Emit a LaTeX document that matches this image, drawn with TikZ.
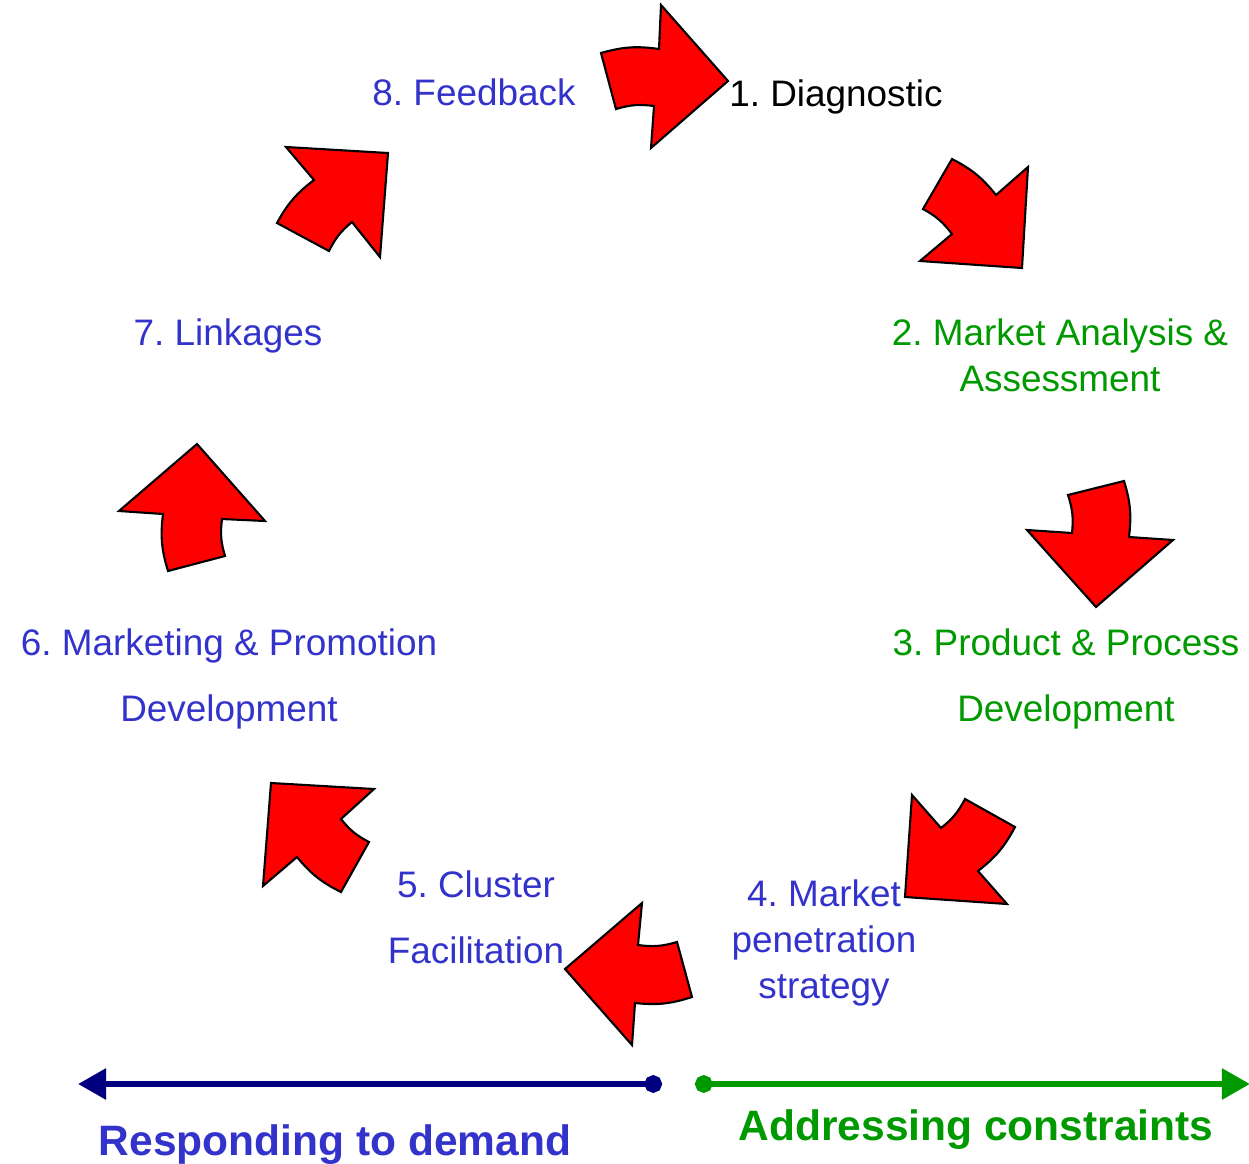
\documentclass[tikz,border=0pt]{standalone}
\usepackage{fontspec}
\setmainfont{Liberation Sans}
\usepackage{tikz}
\usetikzlibrary{arrows.meta, calc}
\definecolor{stepblue}{HTML}{3333CC}
\definecolor{stepgreen}{HTML}{009900}
\definecolor{linenavy}{HTML}{000080}
\frenchspacing
\tikzset{
   myarrow/.style={draw=black, fill=red, line width=1.2pt, line join=miter},
   mylabel/.style={font=\fontsize{21}{26}\selectfont, align=center, inner sep=0pt, anchor=base},
   mywide/.style={mylabel, font=\fontsize{21}{37.5}\selectfont},
   mybold/.style={font=\fontsize{24.2}{30}\selectfont\bfseries, inner sep=0pt, anchor=base},
   myline/.style={line width=3.6pt, {Circle[length=10pt]}-{Triangle[length=16pt,width=17pt]}}
}
\begin{document}
\begin{tikzpicture}[x=0.02cm, y=-0.02cm]
      \useasboundingbox (0,0) rectangle (1249,1164);
      \filldraw[myarrow] (601,53) to[bend left=12] (659,49) -- (661,5) -- (728,81) -- (651,148) -- (654,106) to[bend right=12] (616,109) -- cycle;
      \filldraw[myarrow] (952,159) to[bend left=12] (996,195) -- (1028,167) -- (1022,268) -- (920,261) -- (952,234) to[bend right=12] (923,209) -- cycle;
      \filldraw[myarrow] (1124,481) to[bend left=12] (1129,537) -- (1173,540) -- (1096,607) -- (1027,530) -- (1072,533) to[bend right=12] (1068,495) -- cycle;
      \filldraw[myarrow] (1015,827) to[bend left=12] (978,871) -- (1007,904) -- (905,897) -- (912,795) -- (941,828) to[bend right=12] (965,799) -- cycle;
      \filldraw[myarrow] (692,997) to[bend left=12] (635,1003) -- (632,1045) -- (565,969) -- (642,903) -- (638,945) to[bend right=12] (677,942) -- cycle;
      \filldraw[myarrow] (341,892) to[bend left=12] (297,857) -- (263,886) -- (271,783) -- (374,789) -- (341,819) to[bend right=12] (369,842) -- cycle;
      \filldraw[myarrow] (168,571) to[bend left=12] (163,514) -- (119,511) -- (197,444) -- (265,521) -- (222,519) to[bend right=12] (225,556) -- cycle;
      \filldraw[myarrow] (277,223) to[bend left=12] (314,180) -- (286,147) -- (388,153) -- (380,257) -- (352,222) to[bend right=12] (329,251) -- cycle;

      \node[mylabel, anchor=base west] (diagnostic) at (729,106) {1. Diagnostic};
      \node[mylabel, text=stepgreen] (analysis) at (1060,391) {2. Market Analysis \&\\Assessment};
      \node[mywide, text=stepgreen] (product) at (1066,721) {3. Product \& Process\\Development};
      \node[mylabel, text=stepblue] (penetration) at (824,998) {4. Market\\penetration\\strategy};
      \node[mywide, text=stepblue] (cluster) at (476,963) {5. Cluster\\Facilitation};
      \node[mywide, text=stepblue] (marketing) at (229,721) {6. Marketing \& Promotion\\Development};
      \node[mylabel, text=stepblue] (linkages) at (228,345) {7. Linkages};
      \node[mylabel, text=stepblue] (feedback) at (474,105) {8. Feedback};

      \coordinate (demandstart) at (662,1084);
      \coordinate (demandend) at (78,1084);
      \coordinate (constraintstart) at (695,1084);
      \coordinate (constraintend) at (1250,1084);
      \draw[myline, linenavy] (demandstart) -- (demandend);
      \draw[myline, stepgreen] (constraintstart) -- (constraintend);
      \node[mybold, text=stepblue] (demand) at (335,1155) {Responding to demand};
      \node[mybold, text=stepgreen] (constraints) at (976,1140) {Addressing constraints};
\end{tikzpicture}
\end{document}
